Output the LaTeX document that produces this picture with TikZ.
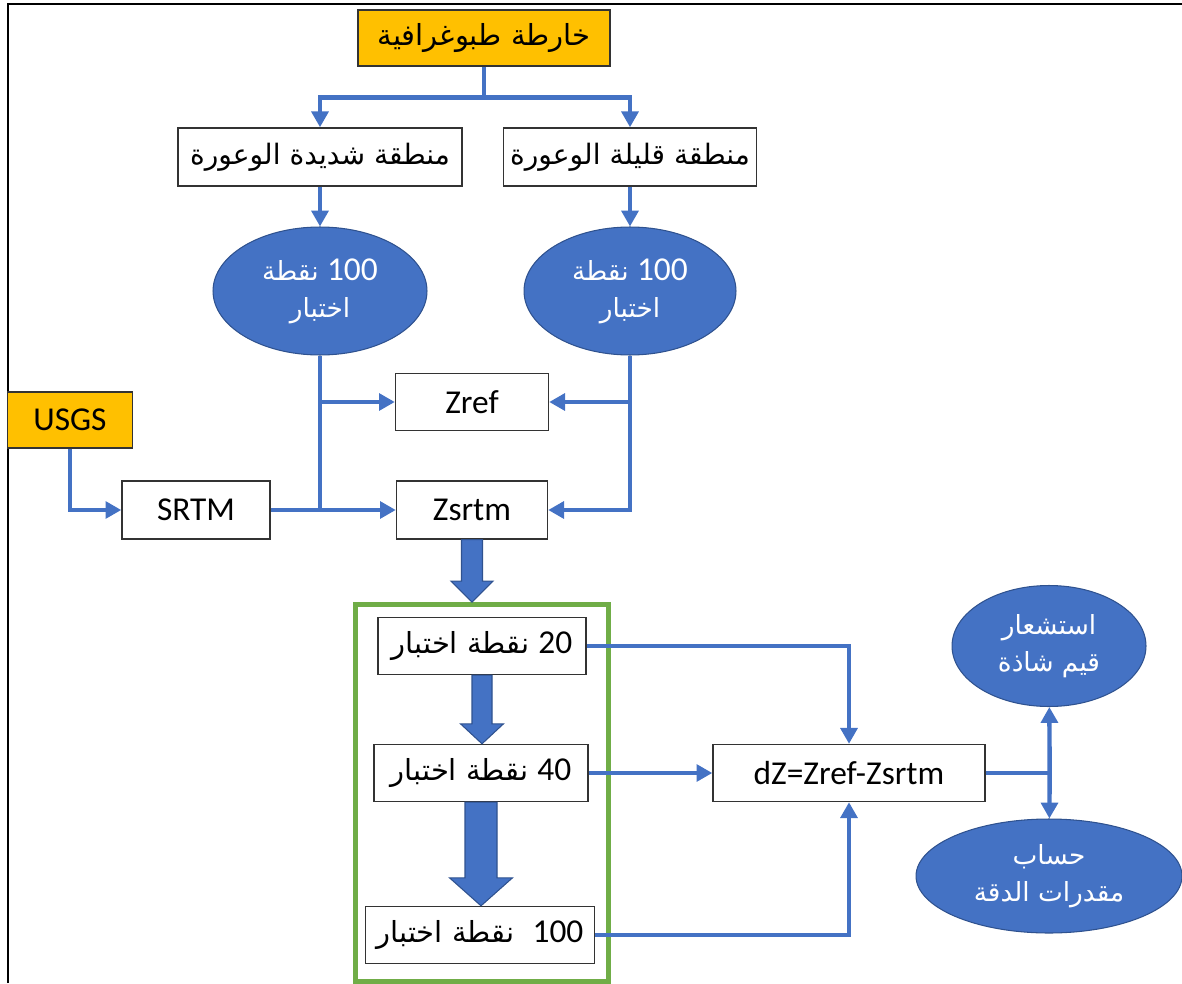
\documentclass[tikz,border=0pt]{standalone}
\usepackage{fontspec}
\setmainfont{Carlito}
\newfontfamily\arabicfont[Script=Arabic]{DejaVu Sans}
\newfontfamily\latinfont{Carlito}
\TeXXeTstate=1
\usetikzlibrary{arrows.meta,calc,shapes.geometric}
\definecolor{flowblue}{HTML}{4472C4}
\definecolor{edgeblue}{HTML}{2F528F}
\definecolor{srcorange}{HTML}{FFC000}
\definecolor{groupgreen}{HTML}{70AD47}

\newcommand{\artxt}[2][15]{{\arabicfont\fontsize{#1}{21}\selectfont\beginR #2\endR}}
\newcommand{\numtxt}[1]{\beginL{\latinfont\fontsize{19}{21}\selectfont #1}\endL{}}
% fat down arrow: from, to, shaft half width, head half width, head length
\newcommand{\blockarrow}[5]{%
  \coordinate (bafrom) at (#1);
  \coordinate (bato) at (#1 |- #2);
  \filldraw[fatarrow] ($(bafrom)+(-#3,0)$) -- ($(bato)+(-#3,-#5)$) -- ($(bato)+(-#4,-#5)$)
    -- (bato) -- ($(bato)+(#4,-#5)$) -- ($(bato)+(#3,-#5)$) -- ($(bafrom)+(#3,0)$) -- cycle;}

\begin{document}
\begin{tikzpicture}[
  x=0.02cm, y=-0.02cm,
  font=\fontsize{19}{21}\selectfont,
  box/.style={draw=black!80, line width=0.8pt, fill=white, inner sep=2pt, align=center},
  srcbox/.style={box, fill=srcorange},
  oval/.style={ellipse, draw=edgeblue, line width=0.6pt, fill=flowblue, text=white,
               inner sep=0pt, align=center},
  group/.style={draw=groupgreen, line width=0.1cm},
  flow/.style={draw=flowblue, line width=2.5pt},
  arrow/.style={flow, -{Triangle[length=9pt,width=9.5pt]}},
  fatarrow/.style={fill=flowblue, draw=edgeblue, line width=0.6pt}
]
  \useasboundingbox (0,0) rectangle (1182,983);
  \draw[line width=1.2pt] (8,983) -- (8,4) -- (1182,4);

  % sources and terrain classes
  \node[srcbox, minimum width=5.04cm, minimum height=1.12cm] (topo) at (484,38) {\artxt[16.5]{خارطة طبوغرافية}};
  \node[box, minimum width=5.68cm, minimum height=1.16cm] (rough) at (320,157) {\artxt[16]{منطقة شديدة الوعورة}};
  \node[box, minimum width=5.06cm, minimum height=1.16cm] (smooth) at (630,157) {\artxt[16]{منطقة قليلة الوعورة}};
  \node[oval, minimum width=4.28cm, minimum height=2.56cm] (ptsL) at (320,291)
    {\artxt{\numtxt{100} نقطة}\\\artxt{اختبار}};
  \node[oval, minimum width=4.24cm, minimum height=2.56cm] (ptsR) at (630,291)
    {\artxt{\numtxt{100} نقطة}\\\artxt{اختبار}};
  \node[srcbox, minimum width=2.5cm, minimum height=1.12cm] (usgs) at (70,420) {USGS};
  \node[box, minimum width=2.96cm, minimum height=1.16cm] (srtm) at (196,510) {SRTM};
  \node[box, minimum width=3.06cm, minimum height=1.14cm] (zref) at (472,402) {Zref};
  \node[box, minimum width=3.02cm, minimum height=1.16cm] (zsrtm) at (472,510) {Zsrtm};

  % test point sets
  \node[group, minimum width=5.08cm, minimum height=7.54cm] (grp) at (482,793) {};
  \node[box, minimum width=4.16cm, minimum height=1.14cm] (p20) at (482,646) {\artxt[16.5]{\numtxt{20} نقطة اختبار}};
  \node[box, minimum width=4.28cm, minimum height=1.14cm] (p40) at (481,773) {\artxt[16.5]{\numtxt{40} نقطة اختبار}};
  \node[box, minimum width=4.58cm, minimum height=1.14cm] (p100) at (480,935) {\artxt[16.5]{\numtxt{100}\ \ نقطة اختبار}};

  % results
  \node[box, minimum width=5.44cm, minimum height=1.14cm] (dz) at (849,773) {dZ=Zref-Zsrtm};
  \node[oval, minimum width=3.88cm, minimum height=2.42cm] (outl) at (1049,646)
    {\artxt{استشعار}\\\artxt{قيم شاذة}};
  \node[oval, minimum width=5.32cm, minimum height=2.28cm] (acc) at (1049,876)
    {\artxt{حساب}\\\artxt{مقدرات الدقة}};

  \coordinate (split) at ($(topo.south)+(0,31)$);
  \draw[flow] (topo) -- (split);
  \draw[arrow] (split) -| (rough);
  \draw[arrow] (split) -| (smooth);
  \draw[arrow] (rough) -- (ptsL);
  \draw[arrow] (smooth) -- (ptsR);

  \draw[flow] (ptsL.south) -- (ptsL.south |- zsrtm.west);
  \draw[arrow] (ptsL.south |- zref.west) -- (zref);
  \draw[arrow] (usgs) |- (srtm);
  \draw[arrow] (srtm) -- (zsrtm);
  \draw[arrow] (ptsR.south) |- (zsrtm);
  \draw[arrow] (ptsR.south |- zref.east) -- (zref);

  \blockarrow{zsrtm.south}{grp.north}{10.5}{21}{21}
  \blockarrow{p20.south}{p40.north}{10}{21.5}{20}
  \blockarrow{p40.south}{p100.north}{16}{31.5}{28}

  \draw[arrow] (p20) -| (dz);
  \draw[arrow] (p40) -- (dz);
  \draw[arrow] (p100) -| (dz);
  \coordinate (fork) at ($(dz.east)+(64,0)$);
  \draw[flow] (dz) -- (fork);
  \draw[arrow] (fork) -- (outl);
  \draw[arrow] (fork) -- (acc);
\end{tikzpicture}
\end{document}
